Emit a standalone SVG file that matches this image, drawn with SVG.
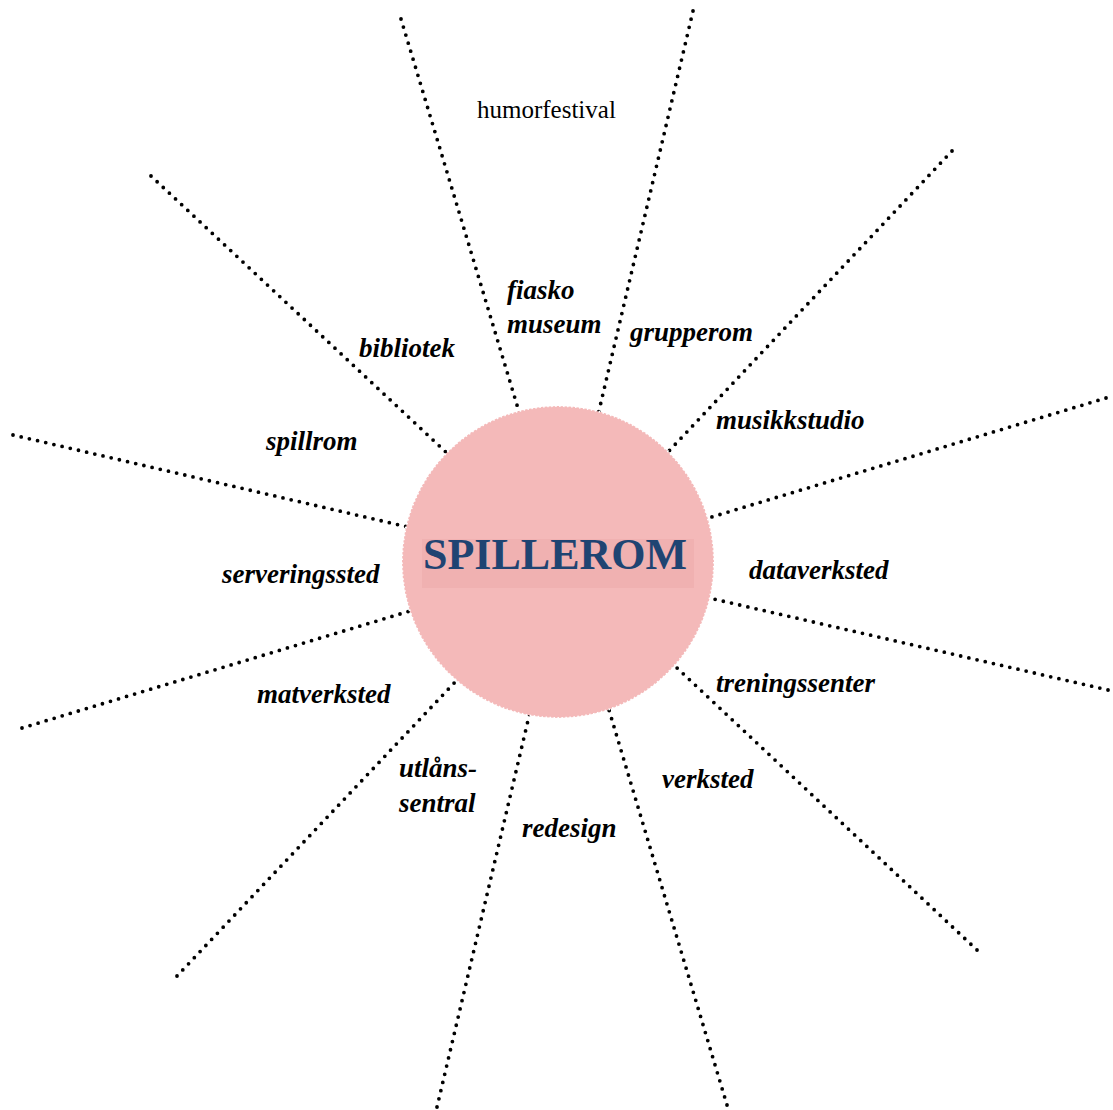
<svg xmlns="http://www.w3.org/2000/svg" width="1113" height="1110" viewBox="0 0 1113 1110">
<style>
.ray{stroke:#000;stroke-width:3.8;stroke-linecap:round;stroke-dasharray:0 8.4;fill:none}
.lbl{font-family:"Liberation Serif","Times New Roman",serif;font-weight:bold;font-style:italic;font-size:27px;fill:#000}
.plain{font-family:"Liberation Serif","Times New Roman",serif;font-size:25px;fill:#000}
.hub{font-family:"Liberation Serif","Times New Roman",serif;font-weight:bold;font-size:44px;fill:#1F4472}
</style>
<rect width="1113" height="1110" fill="#fff"/>
<g id="connectors">
<line class="ray" x1="401" y1="19" x2="520" y2="415"/>
<line class="ray" x1="693" y1="11" x2="598" y2="415"/>
<line class="ray" x1="952" y1="151" x2="668" y2="452"/>
<line class="ray" x1="1106" y1="398" x2="705" y2="519"/>
<line class="ray" x1="1108" y1="690" x2="705" y2="597"/>
<line class="ray" x1="977" y1="950" x2="675" y2="666"/>
<line class="ray" x1="727" y1="1105" x2="609" y2="710"/>
<line class="ray" x1="437" y1="1107" x2="530" y2="712"/>
<line class="ray" x1="177" y1="976" x2="457" y2="680"/>
<line class="ray" x1="22" y1="728" x2="410" y2="611"/>
<line class="ray" x1="13" y1="435" x2="408" y2="527"/>
<line class="ray" x1="151" y1="176" x2="448" y2="454"/>
</g>
<g id="hub">
<circle cx="558" cy="562" r="156" fill="#F4B9B9" stroke="#fff" stroke-width="2" stroke-dasharray="1.5 2.5"/>
<rect x="422" y="539" width="272" height="49" fill="#F0B1B1"/>
<text class="hub" x="423" y="569">SPILLEROM</text>
</g>
<g id="n-humorfestival"><text class="plain" x="477" y="118">humorfestival</text></g>
<g id="n-fiaskomuseum"><text class="lbl" x="507" y="299">fiasko</text><text class="lbl" x="507" y="333">museum</text></g>
<g id="n-grupperom"><text class="lbl" x="630" y="341">grupperom</text></g>
<g id="n-bibliotek"><text class="lbl" x="359" y="357">bibliotek</text></g>
<g id="n-musikkstudio"><text class="lbl" x="716" y="429">musikkstudio</text></g>
<g id="n-spillrom"><text class="lbl" x="266" y="450">spillrom</text></g>
<g id="n-serveringssted"><text class="lbl" x="222" y="583">serveringssted</text></g>
<g id="n-dataverksted"><text class="lbl" x="749" y="579">dataverksted</text></g>
<g id="n-matverksted"><text class="lbl" x="257" y="703">matverksted</text></g>
<g id="n-treningssenter"><text class="lbl" x="716" y="692">treningssenter</text></g>
<g id="n-utlanssentral"><text class="lbl" x="399" y="777">utlåns-</text><text class="lbl" x="399" y="812">sentral</text></g>
<g id="n-verksted"><text class="lbl" x="662" y="788">verksted</text></g>
<g id="n-redesign"><text class="lbl" x="522" y="837">redesign</text></g>
</svg>
